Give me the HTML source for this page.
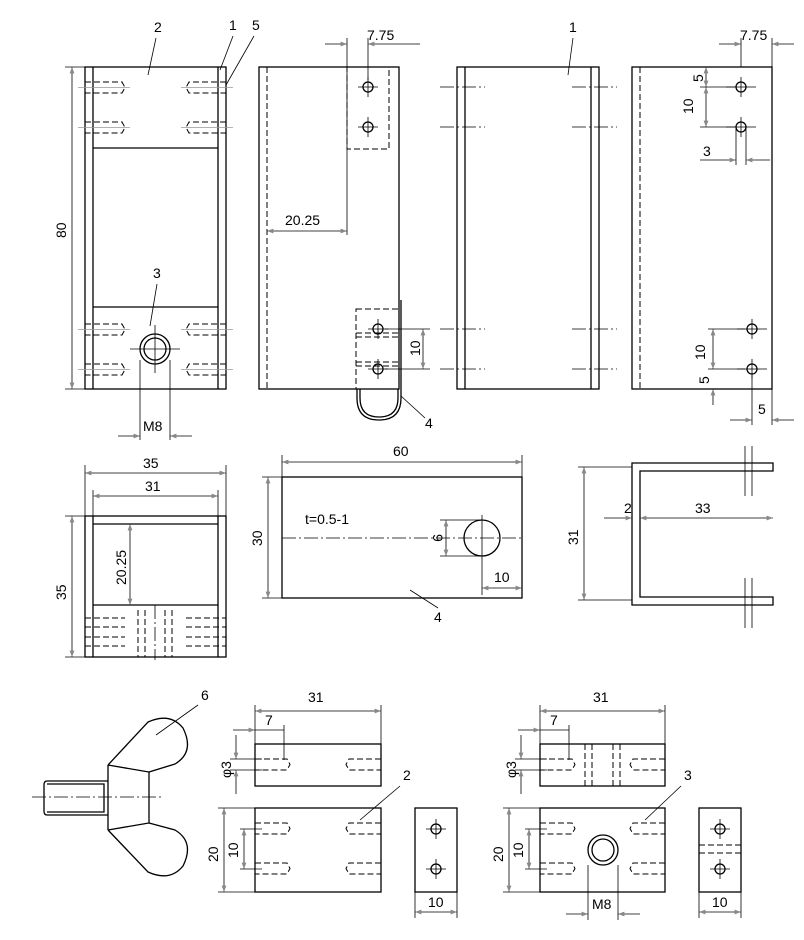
<!DOCTYPE html>
<html><head><meta charset="utf-8"><style>
html,body{margin:0;padding:0;background:#fff}
svg{display:block}
text{font-family:"Liberation Sans",sans-serif;font-size:14px;fill:#000}
.l{stroke:#000;stroke-width:1.3;fill:none}
.d{stroke:#000;stroke-width:1;fill:none;stroke-dasharray:6 3}
.c{stroke:#000;stroke-width:0.8;fill:none;stroke-dasharray:14 3 2 3}
.g{stroke:#999;stroke-width:0.8;fill:none}
.m{stroke:#000;stroke-width:0.8;fill:none}
</style></head><body>
<svg width="804" height="940" viewBox="0 0 804 940" xmlns="http://www.w3.org/2000/svg">
<defs>
<marker id="a" markerWidth="8" markerHeight="6" refX="8" refY="3" orient="auto-start-reverse"><path d="M0,0 L8,3 L0,6 z" fill="#888"/></marker>
</defs>

<!-- View 1 -->
<rect class="l" x="85" y="67" width="141" height="322"/>
<line class="l" x1="93" y1="67" x2="93" y2="389"/><line class="l" x1="218" y1="67" x2="218" y2="389"/>
<line class="l" x1="93" y1="148" x2="218" y2="148"/><line class="l" x1="93" y1="307" x2="218" y2="307"/>
<g class="d">
<path d="M85,82h37l3,5.5l-3,5.5h-37M85,122h37l3,5.5l-3,5.5h-37M226,82h-37l-3,5.5l3,5.5h37M226,122h-37l-3,5.5l3,5.5h37"/>
<path d="M85,324h37l3,5.5l-3,5.5h-37M85,364h37l3,5.5l-3,5.5h-37M226,324h-37l-3,5.5l3,5.5h37M226,364h-37l-3,5.5l3,5.5h37"/>
</g>
<path class="g" d="M78,87.5h52M78,127.5h52M181,87.5h52M181,127.5h52M78,329.5h52M78,369.5h52M181,329.5h52M181,369.5h52"/>
<circle class="l" cx="155" cy="349" r="15"/><circle class="l" cx="155" cy="349" r="11"/>
<line class="m" x1="130" y1="349" x2="180" y2="349"/><line class="m" x1="155" y1="325" x2="155" y2="373"/>
<line class="m" x1="140" y1="360" x2="140" y2="440"/><line class="m" x1="170" y1="360" x2="170" y2="440"/>
<line class="m" x1="118" y1="436" x2="140" y2="436" marker-end="url(#a)"/><line class="m" x1="192" y1="436" x2="170" y2="436" marker-end="url(#a)"/>
<text x="143" y="431" font-size="13">M8</text>
<line class="m" x1="65" y1="67" x2="85" y2="67"/><line class="m" x1="65" y1="389" x2="85" y2="389"/>
<line class="m" x1="72" y1="67" x2="72" y2="389" marker-start="url(#a)" marker-end="url(#a)"/>
<text x="0" y="0" transform="translate(66,238) rotate(-90)">80</text>
<text x="154" y="32" font-size="18">2</text><line class="m" x1="156" y1="38" x2="148" y2="75"/>
<text x="229" y="30" font-size="18">1</text><line class="m" x1="233" y1="36" x2="220" y2="70"/>
<text x="252" y="30" font-size="18">5</text><line class="m" x1="254" y1="36" x2="226" y2="85"/>
<text x="153" y="278" font-size="18">3</text><line class="m" x1="157" y1="284" x2="150" y2="326"/>

<!-- View 2 -->
<rect class="l" x="259" y="67" width="140" height="322"/>
<line class="d" x1="267" y1="67" x2="267" y2="389"/>
<rect class="d" x="347" y="67" width="42" height="82"/>
<circle class="l" cx="368" cy="87" r="5"/><circle class="l" cx="368" cy="127" r="5"/>
<path class="m" d="M358,87h20M368,77v20M358,127h20M368,117v20"/>
<line class="m" x1="347" y1="38" x2="347" y2="235"/><line class="m" x1="368" y1="38" x2="368" y2="80"/>
<line class="m" x1="325" y1="44" x2="347" y2="44" marker-end="url(#a)"/><line class="m" x1="420" y1="44" x2="368" y2="44" marker-end="url(#a)"/>
<text x="367" y="40" font-size="13">7.75</text>
<line class="m" x1="267" y1="231" x2="347" y2="231" marker-start="url(#a)" marker-end="url(#a)"/>
<text x="285" y="225" font-size="13">20.25</text>
<rect class="d" x="356" y="309" width="43" height="80"/>
<path class="d" d="M356,333h43M356,337h43M356,362h43M356,366h43"/>
<circle class="l" cx="378" cy="329" r="5"/><circle class="l" cx="378" cy="369" r="5"/>
<path class="m" d="M368,329h20M378,319v20M368,369h20M378,359v20"/>
<path class="l" d="M357,389 V398 Q357,420 379,420 Q401,420 401,398 V300"/>
<path class="l" d="M360,389 V398 Q360,417 379,417 Q398,417 398,398 V389"/>
<line class="m" x1="385" y1="329" x2="430" y2="329"/><line class="m" x1="385" y1="369" x2="430" y2="369"/>
<line class="m" x1="423" y1="329" x2="423" y2="369" marker-start="url(#a)" marker-end="url(#a)"/>
<text x="0" y="0" font-size="13" transform="translate(420,356) rotate(-90)">10</text>
<text x="425" y="428" font-size="18">4</text><line class="m" x1="425" y1="418" x2="401" y2="396"/>

<!-- View 3 -->
<rect class="l" x="457" y="67" width="142" height="322"/>
<line class="l" x1="465" y1="67" x2="465" y2="389"/><line class="l" x1="591" y1="67" x2="591" y2="389"/>
<path class="c" d="M440,87h45M440,127h45M440,329h45M440,369h45M572,87h45M572,127h45M572,329h45M572,369h45"/>
<text x="569" y="32" font-size="18">1</text><line class="m" x1="573" y1="38" x2="568" y2="75"/>

<!-- View 4 -->
<rect class="l" x="632" y="67" width="140" height="322"/>
<line class="d" x1="640" y1="67" x2="640" y2="389"/>
<circle class="l" cx="741" cy="87" r="5"/><circle class="l" cx="741" cy="127" r="5"/>
<circle class="l" cx="752" cy="329" r="5"/><circle class="l" cx="752" cy="369" r="5"/>
<path class="m" d="M726,87h30M741,77v20M726,127h30M741,117v20M737,329h30M752,319v20M737,369h30M752,359v20"/>
<line class="m" x1="741" y1="38" x2="741" y2="67"/><line class="m" x1="772" y1="38" x2="772" y2="67"/>
<line class="m" x1="719" y1="44" x2="741" y2="44" marker-end="url(#a)"/><line class="m" x1="794" y1="44" x2="772" y2="44" marker-end="url(#a)"/>
<text x="740" y="40" font-size="13">7.75</text>
<line class="m" x1="700" y1="67" x2="732" y2="67"/><line class="m" x1="700" y1="87" x2="735" y2="87"/><line class="m" x1="700" y1="127" x2="735" y2="127"/>
<line class="m" x1="706" y1="67" x2="706" y2="87" marker-start="url(#a)" marker-end="url(#a)"/>
<line class="m" x1="706" y1="87" x2="706" y2="127" marker-start="url(#a)" marker-end="url(#a)"/>
<text x="0" y="0" font-size="13" transform="translate(703,82) rotate(-90)">5</text>
<text x="0" y="0" font-size="13" transform="translate(693,114) rotate(-90)">10</text>
<line class="m" x1="736" y1="127" x2="736" y2="165"/><line class="m" x1="746" y1="127" x2="746" y2="165"/>
<line class="m" x1="700" y1="160" x2="736" y2="160" marker-end="url(#a)"/><line class="m" x1="770" y1="160" x2="746" y2="160" marker-end="url(#a)"/>
<text x="703" y="156" font-size="13">3</text>
<line class="m" x1="708" y1="329" x2="745" y2="329"/><line class="m" x1="708" y1="369" x2="745" y2="369"/>
<line class="m" x1="713" y1="329" x2="713" y2="369" marker-start="url(#a)" marker-end="url(#a)"/>
<line class="m" x1="713" y1="389" x2="713" y2="405" marker-start="url(#a)"/>
<text x="0" y="0" font-size="13" transform="translate(705,360) rotate(-90)">10</text>
<text x="0" y="0" font-size="13" transform="translate(709,384) rotate(-90)">5</text>
<line class="m" x1="752" y1="375" x2="752" y2="425"/><line class="m" x1="772" y1="389" x2="772" y2="425"/>
<line class="m" x1="730" y1="420" x2="752" y2="420" marker-end="url(#a)"/><line class="m" x1="794" y1="420" x2="772" y2="420" marker-end="url(#a)"/>
<text x="758" y="414" font-size="13">5</text>

<!-- View 5 -->
<rect class="l" x="85" y="516" width="141" height="141"/>
<line class="l" x1="93" y1="516" x2="93" y2="657"/><line class="l" x1="218" y1="516" x2="218" y2="657"/>
<line class="l" x1="93" y1="524" x2="218" y2="524"/><line class="l" x1="93" y1="605" x2="218" y2="605"/>
<path class="d" d="M85,618h40M85,627h40M85,637h40M85,646h40M186,618h40M186,627h40M186,637h40M186,646h40M138,610v47M145,610v47M165,610v47M172,610v47"/>
<line class="c" x1="155" y1="605" x2="155" y2="660"/>
<line class="m" x1="85" y1="465" x2="85" y2="516"/><line class="m" x1="226" y1="465" x2="226" y2="516"/>
<line class="m" x1="85" y1="473" x2="226" y2="473" marker-start="url(#a)" marker-end="url(#a)"/>
<text x="143" y="468">35</text>
<line class="m" x1="93" y1="490" x2="93" y2="516"/><line class="m" x1="218" y1="490" x2="218" y2="516"/>
<line class="m" x1="93" y1="496" x2="218" y2="496" marker-start="url(#a)" marker-end="url(#a)"/>
<text x="145" y="491">31</text>
<line class="m" x1="65" y1="516" x2="85" y2="516"/><line class="m" x1="65" y1="657" x2="85" y2="657"/>
<line class="m" x1="72" y1="516" x2="72" y2="657" marker-start="url(#a)" marker-end="url(#a)"/>
<text x="0" y="0" transform="translate(66,600) rotate(-90)">35</text>
<line class="m" x1="130" y1="524" x2="130" y2="605" marker-start="url(#a)" marker-end="url(#a)"/>
<text x="0" y="0" font-size="13" transform="translate(126,585) rotate(-90)">20.25</text>

<!-- View 6 -->
<rect class="l" x="282" y="477" width="240" height="121"/>
<line class="c" x1="282" y1="538" x2="522" y2="538"/>
<circle class="l" cx="482" cy="538" r="18"/><line class="m" x1="482" y1="515" x2="482" y2="561"/>
<text x="305" y="524" font-size="14">t=0.5-1</text>
<line class="m" x1="282" y1="455" x2="282" y2="477"/><line class="m" x1="522" y1="455" x2="522" y2="477"/>
<line class="m" x1="282" y1="462" x2="522" y2="462" marker-start="url(#a)" marker-end="url(#a)"/>
<text x="393" y="456">60</text>
<line class="m" x1="262" y1="477" x2="282" y2="477"/><line class="m" x1="262" y1="598" x2="282" y2="598"/>
<line class="m" x1="268" y1="477" x2="268" y2="598" marker-start="url(#a)" marker-end="url(#a)"/>
<text x="0" y="0" transform="translate(262,546) rotate(-90)">30</text>
<line class="m" x1="440" y1="520" x2="482" y2="520"/><line class="m" x1="440" y1="556" x2="482" y2="556"/>
<line class="m" x1="446" y1="520" x2="446" y2="556" marker-start="url(#a)" marker-end="url(#a)"/>
<text x="0" y="0" font-size="13" transform="translate(433,534) rotate(90)">9</text>
<line class="m" x1="482" y1="561" x2="482" y2="595"/>
<line class="m" x1="482" y1="588" x2="522" y2="588" marker-start="url(#a)" marker-end="url(#a)"/>
<text x="494" y="582" font-size="13">10</text>
<text x="434" y="622" font-size="18">4</text><line class="m" x1="438" y1="608" x2="410" y2="590"/>

<!-- View 7 -->
<path class="l" d="M773,463 H632 V605 H773 V597 H640 V471 H773 Z"/>
<path class="m" d="M745,446v50M752,446v50M745,578v50M752,578v50"/>
<line class="m" x1="578" y1="467" x2="632" y2="467"/><line class="m" x1="578" y1="600" x2="632" y2="600"/>
<line class="m" x1="584" y1="467" x2="584" y2="600" marker-start="url(#a)" marker-end="url(#a)"/>
<text x="0" y="0" transform="translate(578,545) rotate(-90)">31</text>
<line class="m" x1="604" y1="518" x2="632" y2="518" marker-end="url(#a)"/>
<line class="m" x1="640" y1="518" x2="773" y2="518" marker-start="url(#a)" marker-end="url(#a)"/>
<text x="624" y="513" font-size="13">2</text><text x="695" y="513">33</text>

<!-- Wing nut -->
<path class="l" d="M108,765 L108,830 M108,765 L149,772 L149,823 L108,830"/>
<path class="l" d="M108,765 L148,722 Q170,712 183,728 Q195,752 175,764 L149,772"/>
<path class="l" d="M108,830 L148,872 Q170,882 183,866 Q195,842 175,830 L149,823"/>
<path class="l" d="M108,781 H47 Q44,781 44,785 V811 Q44,815 47,815 H108 M47,784 H104 V812 H47"/>
<line class="c" x1="32" y1="797" x2="162" y2="797"/>
<text x="201" y="700" font-size="18">6</text><line class="m" x1="198" y1="705" x2="156" y2="735"/>

<!-- Part 2 -->
<rect class="l" x="255" y="744" width="126" height="42"/>
<path class="d" d="M255,759h32l3,5.5l-3,5.5h-32M381,759h-32l-3,5.5l3,5.5h32"/>
<line class="m" x1="255" y1="705" x2="255" y2="744"/><line class="m" x1="381" y1="705" x2="381" y2="744"/>
<line class="m" x1="255" y1="711" x2="381" y2="711" marker-start="url(#a)" marker-end="url(#a)"/>
<text x="308" y="702">31</text>
<line class="m" x1="284" y1="725" x2="284" y2="760"/>
<line class="m" x1="233" y1="730" x2="255" y2="730" marker-end="url(#a)"/><line class="m" x1="284" y1="730" x2="255" y2="730"/>
<text x="265" y="725" font-size="13">7</text>
<line class="m" x1="230" y1="759" x2="262" y2="759"/><line class="m" x1="230" y1="770" x2="262" y2="770"/>
<line class="m" x1="236" y1="735" x2="236" y2="759" marker-end="url(#a)"/><line class="m" x1="236" y1="794" x2="236" y2="770" marker-end="url(#a)"/>
<text x="0" y="0" font-size="13" transform="translate(231,778) rotate(-90)">φ3</text>
<rect class="l" x="255" y="808" width="126" height="84"/>
<path class="d" d="M255,823h32l3,5.5l-3,5.5h-32M381,823h-32l-3,5.5l3,5.5h32M255,863h32l3,5.5l-3,5.5h-32M381,863h-32l-3,5.5l3,5.5h32"/>
<line class="m" x1="218" y1="808" x2="255" y2="808"/><line class="m" x1="218" y1="892" x2="255" y2="892"/>
<line class="m" x1="224" y1="808" x2="224" y2="892" marker-start="url(#a)" marker-end="url(#a)"/>
<text x="0" y="0" font-size="13" transform="translate(218,862) rotate(-90)">20</text>
<line class="m" x1="240" y1="829" x2="262" y2="829"/><line class="m" x1="240" y1="869" x2="262" y2="869"/>
<line class="m" x1="244" y1="829" x2="244" y2="869" marker-start="url(#a)" marker-end="url(#a)"/>
<text x="0" y="0" font-size="13" transform="translate(238,858) rotate(-90)">10</text>
<text x="403" y="780" font-size="18">2</text><line class="m" x1="400" y1="786" x2="360" y2="820"/>
<rect class="l" x="415" y="808" width="42" height="84"/>
<circle class="l" cx="436" cy="829" r="5"/><circle class="l" cx="436" cy="869" r="5"/>
<path class="m" d="M426,829h20M436,819v20M426,869h20M436,859v20"/>
<line class="m" x1="415" y1="892" x2="415" y2="918"/><line class="m" x1="457" y1="892" x2="457" y2="918"/>
<line class="m" x1="415" y1="912" x2="457" y2="912" marker-start="url(#a)" marker-end="url(#a)"/>
<text x="428" y="907" font-size="13">10</text>

<!-- Part 3 -->
<rect class="l" x="540" y="744" width="125" height="42"/>
<path class="d" d="M540,759h32l3,5.5l-3,5.5h-32M665,759h-32l-3,5.5l3,5.5h32M585,744v42M592,744v42M613,744v42M620,744v42"/>
<line class="m" x1="540" y1="705" x2="540" y2="744"/><line class="m" x1="665" y1="705" x2="665" y2="744"/>
<line class="m" x1="540" y1="711" x2="665" y2="711" marker-start="url(#a)" marker-end="url(#a)"/>
<text x="593" y="702">31</text>
<line class="m" x1="569" y1="725" x2="569" y2="760"/>
<line class="m" x1="518" y1="730" x2="540" y2="730" marker-end="url(#a)"/><line class="m" x1="569" y1="730" x2="540" y2="730"/>
<text x="550" y="725" font-size="13">7</text>
<line class="m" x1="515" y1="759" x2="547" y2="759"/><line class="m" x1="515" y1="770" x2="547" y2="770"/>
<line class="m" x1="521" y1="735" x2="521" y2="759" marker-end="url(#a)"/><line class="m" x1="521" y1="794" x2="521" y2="770" marker-end="url(#a)"/>
<text x="0" y="0" font-size="13" transform="translate(516,778) rotate(-90)">φ3</text>
<rect class="l" x="540" y="808" width="125" height="84"/>
<path class="d" d="M540,823h32l3,5.5l-3,5.5h-32M665,823h-32l-3,5.5l3,5.5h32M540,863h32l3,5.5l-3,5.5h-32M665,863h-32l-3,5.5l3,5.5h32"/>
<circle class="l" cx="603" cy="850" r="15"/><circle class="l" cx="603" cy="850" r="11"/>
<line class="m" x1="588" y1="865" x2="588" y2="920"/><line class="m" x1="618" y1="865" x2="618" y2="920"/>
<line class="m" x1="566" y1="914" x2="588" y2="914" marker-end="url(#a)"/><line class="m" x1="640" y1="914" x2="618" y2="914" marker-end="url(#a)"/>
<text x="592" y="909" font-size="13">M8</text>
<line class="m" x1="503" y1="808" x2="540" y2="808"/><line class="m" x1="503" y1="892" x2="540" y2="892"/>
<line class="m" x1="509" y1="808" x2="509" y2="892" marker-start="url(#a)" marker-end="url(#a)"/>
<text x="0" y="0" font-size="13" transform="translate(503,862) rotate(-90)">20</text>
<line class="m" x1="525" y1="829" x2="547" y2="829"/><line class="m" x1="525" y1="869" x2="547" y2="869"/>
<line class="m" x1="529" y1="829" x2="529" y2="869" marker-start="url(#a)" marker-end="url(#a)"/>
<text x="0" y="0" font-size="13" transform="translate(523,858) rotate(-90)">10</text>
<text x="684" y="780" font-size="18">3</text><line class="m" x1="681" y1="786" x2="645" y2="820"/>
<rect class="l" x="699" y="808" width="42" height="84"/>
<circle class="l" cx="720" cy="829" r="5"/><circle class="l" cx="720" cy="869" r="5"/>
<path class="m" d="M710,829h20M720,819v20M710,869h20M720,859v20"/>
<path class="d" d="M699,845h42M699,853h42"/>
<line class="m" x1="699" y1="892" x2="699" y2="918"/><line class="m" x1="741" y1="892" x2="741" y2="918"/>
<line class="m" x1="699" y1="912" x2="741" y2="912" marker-start="url(#a)" marker-end="url(#a)"/>
<text x="712" y="907" font-size="13">10</text>
</svg>
</body></html>
